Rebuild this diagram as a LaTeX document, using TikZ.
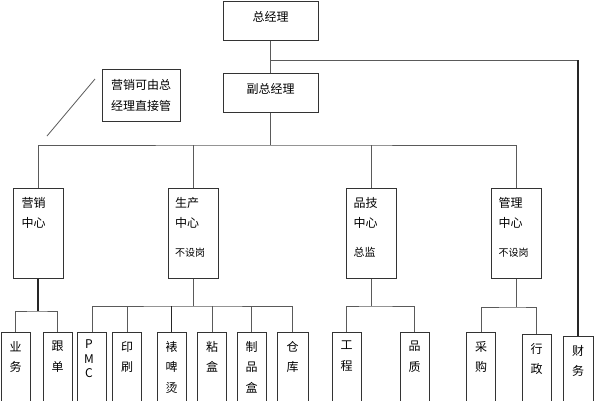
\documentclass[tikz,border=0pt]{standalone}
\usepackage{fontspec}
\setmainfont{Noto Sans CJK SC}
\usetikzlibrary{positioning}
\definecolor{boxline}{HTML}{333333}
\definecolor{linkgray}{HTML}{5A5A5A}
\tikzset{
  head/.style={draw=boxline, line width=1pt, minimum width=95pt, minimum height=39pt, inner sep=0pt, text depth=8pt, font=\fontsize{12}{14}\selectfont},
  note/.style={draw=boxline, line width=1pt, minimum width=78pt, minimum height=52pt, inner sep=0pt, align=center, font=\fontsize{12}{21}\selectfont},
  unit/.style={draw=boxline, line width=1pt, minimum width=50pt, minimum height=90pt, inner sep=0pt},
  unittext/.style={anchor=north west, align=left, inner sep=0pt, font=\fontsize{12}{20}\selectfont},
  leaf/.style={draw=boxline, line width=1pt, minimum width=29pt, minimum height=73pt, inner sep=0pt},
  leaftext/.style={anchor=north, align=center, inner sep=0pt, font=\fontsize{12}{20.5}\selectfont},
  link/.style={draw=linkgray, line width=0.8pt},
  boldlink/.style={draw=black!85, line width=1.6pt}
}
\begin{document}
\begin{tikzpicture}[x=1pt, y=-1pt]
  \useasboundingbox (0,0) rectangle (594,400);

  % top
  \node[head] (zjl) at (270.5,20.5) {总经理};
  \node[head] (fzjl) at (270.5,92.5) {副总经理};
  \node[note] (note) at (141,95) {营销可由总\\经理直接管};
  \coordinate (slash-a) at (95,79);
  \coordinate (slash-b) at (47,136);

  % centres
  \node[unit] (mkt) at (38,233) {};
  \node[unit] (sc) at (193.5,233) {};
  \node[unit] (pj) at (371,233) {};
  \node[unit] (gl) at (516,233) {};
  \node[unittext] (mkt-t) at ([shift={(9,9.5)}]mkt.north west) {营销\\中心};
  \node[unittext] (sc-t) at ([shift={(7,9.5)}]sc.north west) {生产\\中心\\[9pt]{\fontsize{10}{12}\selectfont 不设岗}};
  \node[unittext] (pj-t) at ([shift={(8,9.5)}]pj.north west) {品技\\中心\\[9pt]{\fontsize{11}{12}\selectfont 总监}};
  \node[unittext] (gl-t) at ([shift={(8,9.5)}]gl.north west) {管理\\中心\\[9pt]{\fontsize{10}{12}\selectfont 不设岗}};

  % departments
  \node[leaf] (yewu) at (15.5,368.5) {};
  \node[leaf] (gendan) at (57.5,368.5) {};
  \node[leaf] (pmc) at (92,368.5) {};
  \node[leaf] (yinshua) at (127,368.5) {};
  \node[leaf] (biao) at (171.5,368.5) {};
  \node[leaf] (zhanhe) at (212,368.5) {};
  \node[leaf] (zhipin) at (251.5,368.5) {};
  \node[leaf, minimum width=31pt] (cangku) at (292.5,368.5) {};
  \node[leaf] (gongcheng) at (346.5,368.5) {};
  \node[leaf] (pinzhi) at (414.5,368.5) {};
  \node[leaf] (caigou) at (481,368.5) {};
  \node[leaf, minimum height=71pt] (xingzheng) at (536.5,369.5) {};
  \node[leaf, minimum width=30pt, minimum height=69pt] (caiwu) at (578,370.5) {};

  \node[leaftext] (yewu-t) at ([shift={(0,9.5)}]yewu.north) {业\\务};
  \node[leaftext] (gendan-t) at ([shift={(0,9.5)}]gendan.north) {跟\\单};
  \node[leaftext, font=\fontsize{12}{14.5}\selectfont] (pmc-t) at ([shift={(-3,8)}]pmc.north) {P\\M\\C};
  \node[leaftext] (yinshua-t) at ([shift={(0,9.5)}]yinshua.north) {印\\刷};
  \node[leaftext] (biao-t) at ([shift={(0,9.5)}]biao.north) {裱\\啤\\烫};
  \node[leaftext] (zhanhe-t) at ([shift={(0,9.5)}]zhanhe.north) {粘\\盒};
  \node[leaftext] (zhipin-t) at ([shift={(0,9.5)}]zhipin.north) {制\\品\\盒};
  \node[leaftext] (cangku-t) at ([shift={(0,9.5)}]cangku.north) {仓\\库};
  \node[leaftext] (gongcheng-t) at ([shift={(0,9.5)}]gongcheng.north) {工\\程};
  \node[leaftext] (pinzhi-t) at ([shift={(0,9.5)}]pinzhi.north) {品\\质};
  \node[leaftext] (caigou-t) at ([shift={(0,9.5)}]caigou.north) {采\\购};
  \node[leaftext] (xingzheng-t) at ([shift={(0,9.5)}]xingzheng.north) {行\\政};
  \node[leaftext] (caiwu-t) at ([shift={(0,9.5)}]caiwu.north) {财\\务};

  % buses
  \coordinate (topbus) at (270.5,60);
  \coordinate (midbus) at (270.5,145);
  \coordinate (mktbus) at (38,311);
  \coordinate (scbus) at (193.5,306);
  \coordinate (pjbus) at (371,306);
  \coordinate (glbus) at (516,307);

  \draw[link] (zjl) -- (fzjl);
  \draw[link] (topbus) -- (topbus -| caiwu.north);
  \draw[boldlink] (topbus -| caiwu.north) -- (caiwu.north);
  \draw[link] (slash-a) -- (slash-b);

  \draw[link] (fzjl) -- (midbus);
  \draw[link] (mkt.north) |- (midbus) -| (gl.north);
  \draw[link] (sc.north) -- (sc.north |- midbus);
  \draw[link] (pj.north) -- (pj.north |- midbus);

  \draw[link] (yewu.north) |- (mktbus) -| (gendan.north);
  \draw[boldlink] (mkt.south) -- (mktbus);

  \draw[link] (sc.south) -- (scbus);
  \draw[link] (pmc.north) |- (scbus) -| (cangku.north);
  \draw[link] (yinshua.north) -- (yinshua.north |- scbus);
  \draw[boldlink] (biao.north) -- (biao.north |- scbus);
  \draw[link] (zhanhe.north) -- (zhanhe.north |- scbus);
  \draw[link] (zhipin.north) -- (zhipin.north |- scbus);

  \draw[link] (pj.south) -- (pjbus);
  \draw[link] (gongcheng.north) |- (pjbus) -| (pinzhi.north);

  \draw[link] (gl.south) -- (glbus);
  \draw[link] (caigou.north) |- (glbus) -| (xingzheng.north);
\end{tikzpicture}
\end{document}
